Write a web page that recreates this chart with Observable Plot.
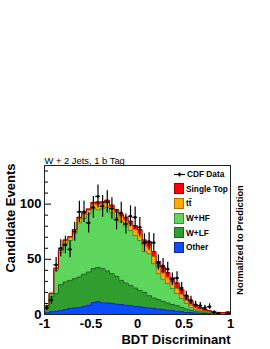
<!DOCTYPE html>
<html><head><meta charset="utf-8">
<script src="https://cdn.jsdelivr.net/npm/d3@7"></script>
<script src="https://cdn.jsdelivr.net/npm/@observablehq/plot@0.6"></script>
<style>
body{margin:0;background:#fff;}
#wrap{position:relative;width:270px;height:349px;font-family:"Liberation Sans",Arial,sans-serif;}
#wrap svg{position:absolute;left:0;top:0;}
#legend{position:absolute;left:174px;top:167px;font-weight:bold;font-size:8.3px;color:#000;}
.row{display:flex;align-items:center;height:14.6px;white-space:nowrap;}
.sw{width:10px;height:11px;margin-right:2px;box-sizing:border-box;border:1px solid;}
</style></head><body><div id="wrap"><div id="legend"></div></div>
<script>
// ---- data ----
const binEdges = [-1,-0.95,-0.9,-0.85,-0.8,-0.75,-0.7,-0.65,-0.6,-0.55,-0.5,-0.45,-0.4,-0.35,-0.3,-0.25,-0.2,-0.15,-0.1,-0.05,0,0.05,0.1,0.15,0.2,0.25,0.3,0.35,0.4,0.45,0.5,0.55,0.6,0.65,0.7,0.75,0.8,0.85,0.9,0.95,1];
const seriesNames = ["Other","W+LF","W+HF","tt\u0304","Single Top"];
const other = [1.5,2.5,3,3.5,4.5,5.5,6,6.5,7.5,8.5,11,11.5,10.5,10.5,10,9.5,9,8.5,8,7.5,7,6.5,6,5.5,5,4.5,4,3.5,3,2.5,2,1.7,1.4,1.2,1,0.8,0.6,0.5,0.4,0.3];
const wlf = [4.5,13.5,16,23.5,25,25.5,26.5,27.5,29,30,30.5,31,31,29,27,25,22,20,18.5,16.5,15,13.5,11,9.5,8.5,7.5,6.5,5.5,5,4,3,2.3,1.6,1.3,1,0.7,0.6,0.5,0.4,0.3];
const whf = [1.5,2.5,21,29,34.5,36,40.5,49,50.5,52.5,54.5,52.5,54.5,57.5,55,53.5,53,51.5,49.5,47.5,45,37,38,31,23.5,20,17.5,14.5,11,8,5,2.5,1.5,0.5,0.2,0.2,0.1,0.1,0.1,0.1];
const ttbar = [0.3,0.5,1.5,2,3,3,3.5,4,4,3.5,4,4.5,4,4.5,4.5,4.5,4.5,5,5,5.5,6,6,6,6.5,5.5,5.5,5,5,4.5,3.5,2.5,2,1.5,1,0.6,0.4,0.3,0.2,0.2,0.3];
const singleTop = [0.2,0.3,0.5,0.5,0.5,0.5,0.5,1,1,1,1.5,2.5,2,2,2.5,2.5,2.5,3,3.5,3.5,4,4.5,5,4.5,5.5,5.5,5,4.5,5,4.5,4.5,3.5,2.5,2.3,1.7,1.2,0.8,0.5,0.6,1.3];
const cdfData = [6,13,45,60,63,59,75,93,93,83,97,107,98,102,96,86,92,82,89,88,79,65,66,65,47,44,41,32,33,24,17,13,9,8,6,7,2,1,0,1];
const xTicks = [-1,-0.5,0,0.5,1];
const xTickLabels = ["-1","-0.5","0","0.5","1"];
const yTicksMajor = [0,50,100];
const yTicksMinor = [10,20,30,40,60,70,80,90,110,120,130];
const fillColors = ["#0a4cff","#2f9e2f","#5ed65e","#ffaa00","#ff0000"];
const lineColors = ["#0a2a90","#1c661c","#3b8f3b","#b06e00","#9a0000"];
const titleText = "W + 2 Jets, 1 b Tag";
const yLabel = "Candidate Events";
const xLabel = "BDT Discriminant";
const rightLabel = "Normalized to Prediction";

// ---- tables ----
const seriesVals = [other, wlf, whf, ttbar, singleTop];
const rows = [];
seriesNames.forEach((s, si) => {
  binEdges.forEach((e, k) => {
    rows.push({x: e, value: seriesVals[si][Math.min(k, seriesVals[si].length - 1)], series: s,
      fill: fillColors[si], line: lineColors[si]});
  });
});
const dataRows = cdfData.map((n, k) => ({x0: binEdges[k], x1: binEdges[k+1], xc: (binEdges[k]+binEdges[k+1])/2, n}))
  .filter(d => d.n > 0);

const font = "'Liberation Sans', Arial, sans-serif";
const chart = Plot.plot({
  width: 270, height: 349,
  marginLeft: 44, marginRight: 40, marginTop: 165, marginBottom: 35,
  x: {domain: [-1, 1]},
  y: {domain: [0, 135]},
  style: {fontFamily: font, background: "white", color: "black", overflow: "visible"},
  marks: [
    Plot.areaY(rows, {x: "x", y: "value", z: "series", fill: "fill", curve: "step-after", order: seriesNames}),
    Plot.lineY(rows, Plot.stackY2({x: "x", y: "value", z: "series", stroke: "line", curve: "step-after", order: seriesNames, strokeWidth: 1})),
    Plot.ruleX(dataRows, {x: "xc", y1: d => d.n - Math.sqrt(d.n), y2: d => d.n + Math.sqrt(d.n), stroke: "black", strokeWidth: 1.2}),
    Plot.ruleY(dataRows, {y: "n", x1: "x0", x2: "x1", stroke: "black", strokeWidth: 1.2}),
    Plot.dot(dataRows, {x: "xc", y: "n", r: 1.4, fill: "black"}),
    Plot.axisY(yTicksMinor, {tickSize: -4, fill: "none", stroke: "black", label: null}),
    Plot.axisY(yTicksMajor, {tickSize: -7, tickPadding: 10, fontSize: 13, fontWeight: "bold", stroke: "black", fill: "black", label: null, tickFormat: d => String(d)}),
    Plot.axisX(xTicks, {tickSize: 0, tickPadding: 4.5, fontSize: 13, fontWeight: "bold", fill: "black", label: null, tickFormat: d => xTickLabels[xTicks.indexOf(d)]}),
    Plot.frame({stroke: "#222", strokeWidth: 1}),
    Plot.text([titleText], {text: d => d, frameAnchor: "top-left", textAnchor: "start", lineAnchor: "bottom", dy: -2, fontSize: 9.4, fill: "black"}),
    Plot.text([yLabel], {text: d => d, frameAnchor: "top-left", rotate: -90, textAnchor: "end", lineAnchor: "middle", dx: -34, dy: -2, fontSize: 13, fontWeight: "bold", fill: "black"}),
    Plot.text([rightLabel], {text: d => d, frameAnchor: "right", rotate: -90, textAnchor: "middle", lineAnchor: "middle", dx: 10, fontSize: 9.3, fontWeight: "bold", fill: "black"}),
    Plot.text([xLabel], {text: d => d, frameAnchor: "bottom-right", textAnchor: "end", lineAnchor: "middle", dy: 25.5, fontSize: 13, fontWeight: "bold", fill: "black"})
  ]
});
const wrap = document.getElementById("wrap");
wrap.insertBefore(chart, wrap.firstChild);

// ---- legend (overlay) ----
const legend = document.getElementById("legend");
const dataRow = document.createElement("div");
dataRow.className = "row";
dataRow.innerHTML = '<svg width="12" height="11" style="position:static;margin-right:1px"><line x1="0" x2="11" y1="5.5" y2="5.5" stroke="black" stroke-width="1.2"/><line x1="5.5" x2="5.5" y1="3.5" y2="7.5" stroke="black" stroke-width="1.2"/><circle cx="5.5" cy="5.5" r="1.4" fill="black"/></svg><span>CDF Data</span>';
legend.appendChild(dataRow);
for (let i = seriesNames.length - 1; i >= 0; i--) {
  const r = document.createElement("div");
  r.className = "row";
  const sw = document.createElement("div");
  sw.className = "sw";
  sw.style.background = fillColors[i];
  sw.style.borderColor = lineColors[i];
  const t = document.createElement("span");
  t.textContent = seriesNames[i];
  r.appendChild(sw); r.appendChild(t);
  legend.appendChild(r);
}
</script></body></html>
